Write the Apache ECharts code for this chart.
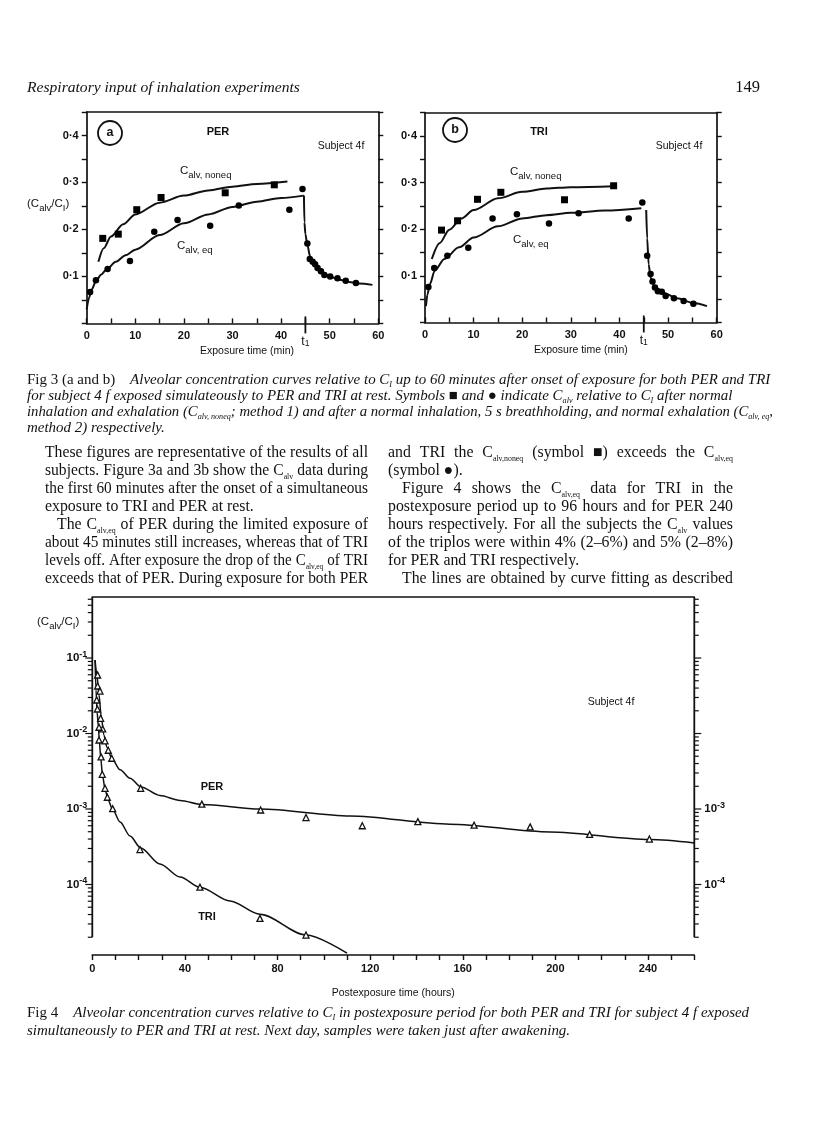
<!DOCTYPE html>
<html><head><meta charset="utf-8">
<script src="https://cdn.jsdelivr.net/npm/echarts@6/dist/echarts.min.js"></script>
<style>html,body{margin:0;padding:0;background:#fff;}#c{width:816px;height:1138px;}</style>
</head><body><div id="c"></div>
<script>
// ================= DATA =================
// Fig 3a (PER), exposure time in minutes, C_alv/C_I
const perNoneqPts = [[3.3,0.181],[6.5,0.190],[10.3,0.242],[15.3,0.268],[28.5,0.278],[38.6,0.295]];
const perEqPts = [[0.7,0.067],[1.9,0.092],[4.3,0.116],[8.9,0.133],[13.9,0.195],[18.7,0.220],[25.4,0.208],[31.3,0.251],[41.7,0.242],[44.4,0.286]];
const perPostPts = [[45.4,0.170],[45.9,0.137],[46.5,0.131],[47.0,0.126],[47.5,0.118],[48.2,0.111],[48.9,0.103],[50.1,0.100],[51.6,0.096],[53.3,0.091],[55.4,0.086]];
const perNoneqFit = [[2.4,0.131],[3.5,0.160],[5,0.185],[7.5,0.211],[10,0.232],[15,0.257],[20,0.272],[25,0.283],[30,0.291],[35,0.297],[41.3,0.302]];
const perEqFit = [[0,0.030],[0.5,0.055],[1,0.072],[2,0.092],[3,0.104],[4,0.114],[6,0.131],[8,0.145],[10,0.157],[15,0.188],[20,0.213],[25,0.232],[30,0.248],[35,0.259],[40,0.267],[44.7,0.272]];
const perPostFit = [[44.7,0.272],[44.8,0.215],[45.0,0.190],[45.4,0.167],[46.0,0.141],[47.0,0.123],[48.0,0.112],[49.0,0.105],[50.0,0.100],[52.0,0.093],[54.0,0.088],[56.0,0.085],[58.8,0.082]];
// Fig 3b (TRI)
const triNoneqPts = [[3.4,0.198],[6.7,0.218],[10.8,0.264],[15.6,0.279],[28.7,0.263],[38.8,0.293]];
const triEqPts = [[0.7,0.076],[1.9,0.117],[4.6,0.143],[8.9,0.160],[13.9,0.223],[18.9,0.232],[25.5,0.212],[31.6,0.234],[41.9,0.223],[44.7,0.257]];
const triPostPts = [[45.7,0.143],[46.4,0.104],[46.8,0.088],[47.3,0.075],[47.9,0.067],[48.7,0.066],[49.5,0.057],[51.2,0.052],[53.2,0.046],[55.2,0.040]];
const triNoneqFit = [[1.4,0.136],[3,0.170],[5,0.199],[7.5,0.223],[10,0.241],[15,0.266],[20,0.280],[25,0.287],[30,0.290],[39,0.292]];
const triEqFit = [[0.2,0.035],[0.5,0.060],[1,0.082],[2,0.111],[4,0.136],[7,0.161],[10,0.182],[15,0.206],[20,0.223],[25,0.230],[30,0.235],[37,0.240],[44.5,0.245]];
const triPostFit = [[45.5,0.241],[45.7,0.180],[46.0,0.125],[46.4,0.096],[47.3,0.076],[49.0,0.064],[51.8,0.052],[55.2,0.042],[58.0,0.035]];
const t1Marker = [[45,0]];
// Fig 4, postexposure time in hours, C_alv/C_I (log)
const perLogPts = [[2.3,0.0596],[2.3,0.0426],[3.3,0.0365],[3.6,0.0159],[4.5,0.0115],[5.5,0.0080],[6.9,0.0060],[8.4,0.0047],[20.9,0.00188],[47.3,0.00116],[72.7,0.00097],[92.3,0.00077],[116.6,0.00060],[140.6,0.00068],[164.9,0.00061],[189.1,0.00058],[214.8,0.00046],[240.6,0.00040]];
const triLogPts = [[1.9,0.0278],[2.2,0.0211],[2.9,0.0121],[2.9,0.0082],[3.8,0.0049],[4.3,0.00288],[5.5,0.00188],[6.5,0.00143],[8.8,0.00101],[20.6,0.00029],[46.5,0.000092],[72.4,0.0000356],[92.3,0.0000214]];
const perLogFit = [[1.2,0.094],[2.0,0.0596],[2.9,0.0324],[3.8,0.0176],[5.0,0.00955],[6.3,0.0066],[8.5,0.0046],[12,0.0033],[16.3,0.00255],[21,0.00196],[29.2,0.00151],[37.9,0.0013],[47.4,0.00115],[72.4,0.001],[111.3,0.00081],[154.5,0.00063],[197.7,0.000496],[240.9,0.000394],[260,0.000355]];
const triLogFit = [[1.2,0.094],[1.6,0.0377],[2.1,0.019],[2.6,0.0125],[3.0,0.0085],[3.6,0.0049],[4.4,0.0028],[5.5,0.00184],[6.8,0.00132],[8.7,0.00100],[12,0.000673],[16.3,0.000439],[20.9,0.000304],[29.2,0.000187],[37.9,0.000126],[46.5,0.0000918],[59.5,0.0000604],[72.4,0.0000403],[92.3,0.0000214],[110,0.0000123]];
// tick labels
const expXLabelVals = [0,10,20,30,40,50,60];
const expYLabelVals = [0.1,0.2,0.3,0.4];
const expYLabelTexts = ['0·1','0·2','0·3','0·4'];
const postXLabelVals = [0,40,80,120,160,200,240];
const logLeftLabelExps = [-1,-2,-3,-4];
const logRightLabelExps = [-3,-4];
// axis ranges
const EXP_X_MAX = 60, EXP_Y_MAX = 0.45;
const X4_MAX = 260, Y4_MIN = 1.164e-5, Y4_MAX = 0.643, Y4_AXIS_END = 2e-5;

// ================= STYLE / HELPERS =================
const INK = '#111111';
const SANS = '"Liberation Sans", Arial, sans-serif';
const SERIF = '"Liberation Serif", "Times New Roman", serif';
const mctx = document.createElement('canvas').getContext('2d');
function fontOf(st){ return (st.fontStyle||'normal')+' '+(st.fontWeight||'normal')+' '+st.fontSize+'px '+st.fontFamily; }
function segW(t, st){ mctx.font = fontOf(st); return mctx.measureText(t).width; }
function segsW(segs, rich){ return segs.reduce((s,[t,k])=>s+segW(t,rich[k]),0); }

const graphics = [];
// lays out one line word by word; hs = horizontal condensing, target = justified width
function buildLine(x0, y, segs, rich, target, hs){
  const words=[[]]; const spaces=[];
  segs.forEach(([t,k])=>{ t.split(' ').forEach((p,i)=>{ if(i>0){spaces.push(k); words.push([]);} if(p) words[words.length-1].push([p,k]); }); });
  const wW = words.map(w=>hs*w.reduce((s,[t,k])=>s+segW(t,rich[k]),0));
  const sW = spaces.map(k=>hs*segW(' ',rich[k]));
  const nat = wW.reduce((a,b)=>a+b,0)+sW.reduce((a,b)=>a+b,0);
  const extra = (target && spaces.length) ? (target-nat)/spaces.length : 0;
  let x = x0;
  words.forEach((w,i)=>{
    if (w.length) graphics.push({type:'text', x:x, y:y, scaleX:hs, silent:true,
      style:{text:w.map(([t,k])=>'{'+k+'|'+t+'}').join(''), rich:rich, verticalAlign:'middle', align:'left', fill:INK}});
    x += wW[i];
    if (i<spaces.length) x += sW[i]+extra;
  });
}
const NB = '\u00a0';

// ---- header ----
const headSt = {fontStyle:'italic', fontSize:16, fontFamily:SERIF};
const headText = 'Respiratory input of inhalation experiments';
const headFS = 16*273/segW(headText, headSt);
graphics.push({type:'text', x:27, y:88, silent:true, style:{text:headText, fontStyle:'italic', fontSize:headFS, fontFamily:SERIF, fill:INK, verticalAlign:'middle'}});
graphics.push({type:'text', x:760, y:88, silent:true, style:{text:'149', fontSize:16.5, fontFamily:SERIF, fill:INK, align:'right', verticalAlign:'middle'}});

// ---- captions ----
function capRich(fs){ return {
  n:{fontSize:fs, fontFamily:SERIF, fill:INK, lineHeight:18},
  i:{fontSize:fs, fontFamily:SERIF, fontStyle:'italic', fill:INK, lineHeight:18},
  is:{fontSize:fs*0.55, fontFamily:SERIF, fontStyle:'italic', fill:INK, lineHeight:9, verticalAlign:'bottom'}
};}
const cap3 = [
  [['Fig 3 (a and b)','n'],['    Alveolar concentration curves relative to C','i'],['I','is'],[' up to 60 minutes after onset of exposure for both PER and TRI','i']],
  [['for subject 4 f exposed simulateously to PER and TRI at rest. Symbols ','i'],['■','n'],[' and ','i'],['●','n'],[' indicate C','i'],['alv','is'],[' relative to C','i'],['I','is'],[' after normal','i']],
  [['inhalation and exhalation (C','i'],['alv,'+NB+'noneq','is'],['; method 1) and after a normal inhalation, 5 s breathholding, and normal exhalation (C','i'],['alv,'+NB+'eq','is'],[',','i']],
  [['method 2) respectively.','i']]
];
const cap4 = [
  [['Fig 4','n'],['    Alveolar concentration curves relative to C','i'],['I','is'],[' in postexposure period for both PER and TRI for subject 4 f exposed','i']],
  [['simultaneously to PER and TRI at rest. Next day, samples were taken just after awakening.','i']]
];
const capFS = Math.min(14*(771-27)/segsW(cap3[0], capRich(14)), 15.5);
const cR = capRich(capFS);
const cap3Y = [380,396,412,428];
cap3.forEach((l,i)=>{ const hs = Math.min(1, (773-27)/segsW(l,cR)); buildLine(27, cap3Y[i], l, cR, 0, hs); });
const cap4Y = [1013,1031];
cap4.forEach((l,i)=>{ const hs = Math.min(1, (762-27)/segsW(l,cR)); buildLine(27, cap4Y[i], l, cR, 0, hs); });

// ---- body text ----
function bodyRich(fs){ return {
  n:{fontSize:fs, fontFamily:SERIF, fill:INK, lineHeight:20},
  s:{fontSize:fs*0.5, fontFamily:SERIF, fill:INK, lineHeight:10, verticalAlign:'bottom'}
};}
const leftCol = [
  [45, [['These figures are representative of the results of all','n']], 1],
  [45, [['subjects. Figure 3a and 3b show the C','n'],['alv','s'],[' data during','n']], 1],
  [45, [['the first 60 minutes after the onset of a simultaneous','n']], 1],
  [45, [['exposure to TRI and PER at rest.','n']], 0],
  [57, [['The C','n'],['alv,eq','s'],[' of PER during the limited exposure of','n']], 1],
  [45, [['about 45 minutes still increases, whereas that of TRI','n']], 1],
  [45, [['levels off. After exposure the drop of the C','n'],['alv,eq','s'],[' of TRI','n']], 1],
  [45, [['exceeds that of PER. During exposure for both PER','n']], 1]
];
const rightCol = [
  [388, [['and TRI the C','n'],['alv,noneq','s'],[' (symbol ■) exceeds the C','n'],['alv,eq','s']], 1],
  [388, [['(symbol ●).','n']], 0],
  [402, [['Figure 4 shows the C','n'],['alv,eq','s'],[' data for TRI in the','n']], 1],
  [388, [['postexposure period up to 96 hours and for PER 240','n']], 1],
  [388, [['hours respectively. For all the subjects the C','n'],['alv','s'],[' values','n']], 1],
  [388, [['of the triplos were within 4% (2–6%) and 5% (2–8%)','n']], 1],
  [388, [['for PER and TRI respectively.','n']], 0],
  [402, [['The lines are obtained by curve fitting as described','n']], 1]
];
const BODY_FS = 16.3;
const bR = bodyRich(BODY_FS);
const ratios = [];
leftCol.forEach(([x,s,j])=>{ if(j) ratios.push((368-x)/segsW(s,bR)); });
rightCol.forEach(([x,s,j])=>{ if(j) ratios.push((733-x)/segsW(s,bR)); });
ratios.sort((a,b)=>a-b);
const bodyHS = Math.min(ratios[Math.floor(ratios.length/2)]*0.985, 1);
function placeCol(col, right){
  col.forEach(([x,s,j],i)=>{
    const tgt = right - x;
    const hs = j ? Math.min(bodyHS, tgt/segsW(s,bR)*0.995) : bodyHS;
    buildLine(x, 453+17.9*i, s, bR, j ? tgt : 0, hs);
  });
}
placeCol(leftCol, 368); placeCol(rightCol, 733);

// ---- chart annotations ----
const chR = {
  c:{fontSize:11.5, fontFamily:SANS, fill:INK, lineHeight:18},
  s:{fontSize:9.5, fontFamily:SANS, fill:INK, lineHeight:9, verticalAlign:'bottom'}
};
function txt(x,y,text,opt){ graphics.push({type:'text', x:x, y:y, silent:true, style:Object.assign({text:text, fontFamily:SANS, fill:INK, fontSize:11, align:'center', verticalAlign:'middle'}, opt||{})}); }
function circ(x,y,letter){
  graphics.push({type:'circle', silent:true, shape:{cx:x, cy:y, r:12}, style:{fill:'none', stroke:INK, lineWidth:1.8}});
  txt(x, y, letter, {fontSize:12.5, fontWeight:'bold'});
}
circ(110,133,'a'); circ(455,130,'b');
txt(218,132,'PER',{fontWeight:'bold'}); txt(539,132,'TRI',{fontWeight:'bold'});
txt(341,146,'Subject 4f',{fontSize:10.5}); txt(679,146,'Subject 4f',{fontSize:10.5});
txt(180,171,'{c|C}{s|alv, noneq}',{align:'left', rich:chR});
txt(177,246,'{c|C}{s|alv, eq}',{align:'left', rich:chR});
txt(510,172,'{c|C}{s|alv, noneq}',{align:'left', rich:chR});
txt(513,240,'{c|C}{s|alv, eq}',{align:'left', rich:chR});
txt(27,204,'{c|(C}{s|alv}{c|/C}{s|I}{c|)}',{align:'left', rich:chR});
txt(37,622,'{c|(C}{s|alv}{c|/C}{s|I}{c|)}',{align:'left', rich:chR});
txt(611,702,'Subject 4f',{fontSize:10.5});
txt(212,787,'PER',{fontWeight:'bold'});
txt(207,917,'TRI',{fontWeight:'bold'});

// ================= AXES =================
const axLine = {onZero:false, lineStyle:{color:INK, width:1.7}};
const tickLab = {color:INK, fontFamily:SANS, fontWeight:'bold', fontSize:11};
function expX(gi, namePad){
  return [
    {gridIndex:gi, type:'value', position:'bottom', min:0, max:EXP_X_MAX, interval:5,
     axisLine:axLine, axisTick:{inside:true, length:5, lineStyle:{color:INK, width:1.4}},
     axisLabel:Object.assign({margin:7, formatter:v=>expXLabelVals.indexOf(v)>=0?String(v):''}, tickLab),
     splitLine:{show:false},
     name:'Exposure time (min)', nameLocation:'middle', nameGap:22,
     nameTextStyle:{color:INK, fontFamily:SANS, fontSize:10.5, padding:[0,0,0,namePad]}},
    {gridIndex:gi, type:'value', position:'top', min:0, max:EXP_X_MAX,
     axisLine:axLine, axisTick:{show:false}, axisLabel:{show:false}, splitLine:{show:false}}
  ];
}
function expY(gi){
  const lab = v => { const i = expYLabelVals.findIndex(t=>Math.abs(t-v)<1e-9); return i>=0 ? expYLabelTexts[i] : ''; };
  return [
    {gridIndex:gi, type:'value', position:'left', min:0, max:EXP_Y_MAX, interval:0.05,
     axisLine:axLine, axisTick:{length:5, lineStyle:{color:INK, width:1.4}},
     axisLabel:Object.assign({margin:8, formatter:lab}, tickLab), splitLine:{show:false}},
    {gridIndex:gi, type:'value', position:'right', min:0, max:EXP_Y_MAX, interval:0.05,
     axisLine:axLine, axisTick:{length:5, lineStyle:{color:INK, width:1.4}},
     axisLabel:{show:false}, splitLine:{show:false}}
  ];
}
function isPow(v){ const e=Math.log10(v); return Math.abs(e-Math.round(e))<1e-6; }
const logRich = {
  b:{fontSize:11.5, fontWeight:'bold', fontFamily:SANS, color:INK, lineHeight:16},
  s:{fontSize:9, fontWeight:'bold', fontFamily:SANS, color:INK, lineHeight:9, verticalAlign:'top'}
};
function logFmt(list){ return v => { if(!isPow(v)) return ''; const e=Math.round(Math.log10(v)); return list.indexOf(e)>=0 ? '{b|10}{s|'+e+'}' : ''; }; }

const xAxes = [].concat(expX(0,29), expX(1,20), [
  {gridIndex:2, type:'value', position:'bottom', min:0, max:X4_MAX, interval:10,
   axisLine:axLine, axisTick:{length:5, lineStyle:{color:INK, width:1.4}},
   axisLabel:Object.assign({margin:8, formatter:v=>postXLabelVals.indexOf(v)>=0?String(v):''}, tickLab),
   splitLine:{show:false},
   name:'Postexposure time (hours)', nameLocation:'middle', nameGap:33,
   nameTextStyle:{color:INK, fontFamily:SANS, fontSize:10.5}},
  {gridIndex:2, type:'value', position:'top', min:0, max:X4_MAX,
   axisLine:axLine, axisTick:{show:false}, axisLabel:{show:false}, splitLine:{show:false}}
]);
const yAxes = [].concat(expY(0), expY(1), [
  {gridIndex:2, type:'log', logBase:10, position:'left', min:Y4_MIN, max:Y4_MAX,
   axisLine:{show:false}, axisTick:{show:false}, splitLine:{show:false},
   axisLabel:{margin:5, formatter:logFmt(logLeftLabelExps), rich:logRich}},
  {gridIndex:2, type:'log', logBase:10, position:'right', min:Y4_MIN, max:Y4_MAX,
   axisLine:{show:false}, axisTick:{show:false}, splitLine:{show:false},
   axisLabel:{margin:10, formatter:logFmt(logRightLabelExps), rich:logRich}}
]);

// ================= SERIES =================
function fitLine(xi, data, w){ return {type:'line', xAxisIndex:xi, yAxisIndex:xi, data:data, symbol:'none', showSymbol:false,
  smooth:0.3, smoothMonotone:'x', lineStyle:{color:INK, width:w||2}, silent:true, z:2, animation:false}; }
function pts(xi, data, sym, size){ return {type:'scatter', xAxisIndex:xi, yAxisIndex:xi, data:data, symbol:sym, symbolSize:size,
  itemStyle:{color:'#000', opacity:1}, silent:true, z:3, animation:false}; }
function hollow(data){ return {type:'scatter', xAxisIndex:4, yAxisIndex:4, data:data, symbol:'triangle', symbolSize:6,
  itemStyle:{color:'#fff', borderColor:INK, borderWidth:1.3, opacity:1}, silent:true, z:4, animation:false}; }
function t1Series(xi){
  return {type:'custom', xAxisIndex:xi, yAxisIndex:xi, data:t1Marker, silent:true, clip:false, z:5,
    renderItem:(params, api)=>{
      const p = api.coord([api.value(0), api.value(1)]);
      return {type:'group', children:[
        {type:'line', shape:{x1:p[0], y1:p[1]-7, x2:p[0], y2:p[1]+10}, style:{stroke:INK, lineWidth:1.8}},
        {type:'text', x:p[0], y:p[1]+11, style:{text:'{t|t}{s|1}', align:'center', verticalAlign:'top',
          rich:{t:{fontSize:12, fontFamily:SANS, fill:INK, lineHeight:14}, s:{fontSize:8.5, fontFamily:SANS, fill:INK, lineHeight:8, verticalAlign:'bottom'}}}}
      ]};
    }};
}
// fig 4 ticks on both log axes
const fig4TickVals = [];
for (let e=-5; e<=-1; e++) for (let k=1; k<=9; k++){ const v=k*Math.pow(10,e); if (v>=Y4_AXIS_END*0.999 && v<=Y4_MAX) fig4TickVals.push(v); }
const fig4Ticks = {type:'custom', xAxisIndex:4, yAxisIndex:4, silent:true, clip:false, z:5,
  data: fig4TickVals.map(v=>[0, v, isPow(v)?1:0]),
  encode:{x:0, y:1},
  renderItem:(params, api)=>{
    const v = api.value(1), maj = api.value(2);
    const L = api.coord([0, v]), R = api.coord([X4_MAX, v]);
    const len = maj ? 7 : 4.5;
    return {type:'group', children:[
      {type:'line', shape:{x1:L[0]-len, y1:L[1], x2:L[0], y2:L[1]}, style:{stroke:INK, lineWidth:1.2}},
      {type:'line', shape:{x1:R[0], y1:R[1], x2:R[0]+len, y2:R[1]}, style:{stroke:INK, lineWidth:1.2}}
    ]};
  }};
function vLine(x){ return {type:'line', xAxisIndex:4, yAxisIndex:4, data:[[x, Y4_MAX],[x, Y4_AXIS_END]], symbol:'none',
  lineStyle:{color:INK, width:1.8}, clip:false, silent:true, z:5, animation:false}; }

const series = [
  fitLine(0, perNoneqFit), fitLine(0, perEqFit), fitLine(0, perPostFit),
  pts(0, perNoneqPts, 'rect', 7), pts(0, perEqPts, 'circle', 6.5), pts(0, perPostPts, 'circle', 6.5),
  t1Series(0),
  fitLine(2, triNoneqFit), fitLine(2, triEqFit), fitLine(2, triPostFit),
  pts(2, triNoneqPts, 'rect', 7), pts(2, triEqPts, 'circle', 6.5), pts(2, triPostPts, 'circle', 6.5),
  t1Series(2),
  fitLine(4, perLogFit, 1.5), fitLine(4, triLogFit, 1.5),
  hollow(perLogPts), hollow(triLogPts),
  fig4Ticks, vLine(0), vLine(X4_MAX)
];

const option = {
  animation:false,
  backgroundColor:'#ffffff',
  grid:[
    {left:86.7, top:112, width:291.6, height:211.4},
    {left:425, top:112.5, width:291.7, height:210},
    {left:92.3, top:597, width:602, height:358}
  ],
  xAxis:xAxes, yAxis:yAxes, series:series, graphic:graphics
};
const chart = echarts.init(document.getElementById('c'), null, {renderer:'canvas', width:816, height:1138});
chart.setOption(option);
</script></body></html>
